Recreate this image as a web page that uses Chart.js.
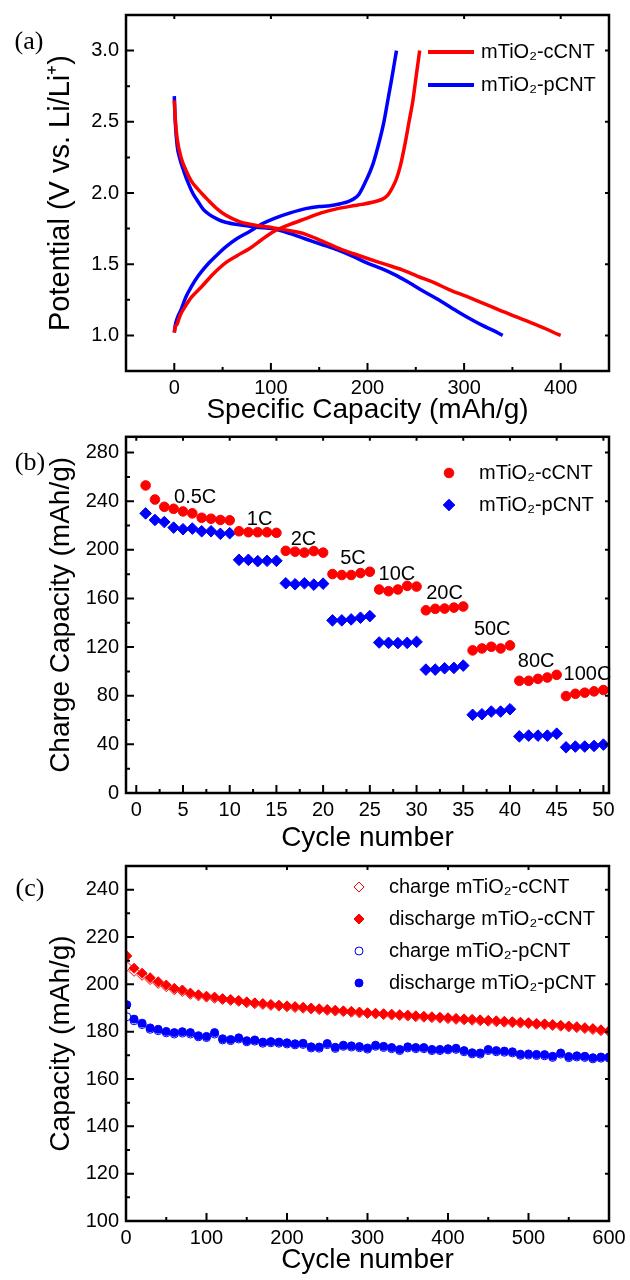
<!DOCTYPE html>
<html>
<head>
<meta charset="utf-8">
<script src="https://cdn.jsdelivr.net/npm/chart.js@4.4.0/dist/chart.umd.min.js"></script>
<style>
  html, body { margin: 0; padding: 0; background: #fff; }
  #page { position: relative; width: 630px; height: 1280px; overflow: hidden; }
  .panel { position: absolute; left: 0; width: 630px; }
  .panel canvas { display: block; }
</style>
</head>
<body>
<div id="page">
  <div class="panel" style="top:0"><canvas id="chartA" width="630" height="430"></canvas></div>
  <div class="panel" style="top:430px"><canvas id="chartB" width="630" height="430"></canvas></div>
  <div class="panel" style="top:860px"><canvas id="chartC" width="630" height="420"></canvas></div>
</div>
<script>
// ---------- (a) charge / discharge profiles ----------
var capDisC = [0, 1, 3, 7, 12, 18, 24, 28, 35, 45, 53, 62, 69, 85, 103, 120, 136, 152, 169, 185, 200, 218, 236, 252, 269, 285, 302, 320, 336, 352, 369, 385, 398, 400];
var volDisC = [2.65, 2.52, 2.38, 2.25, 2.16, 2.08, 2.03, 2.0, 1.95, 1.885, 1.845, 1.815, 1.795, 1.772, 1.755, 1.735, 1.71, 1.665, 1.615, 1.575, 1.54, 1.5, 1.46, 1.415, 1.37, 1.32, 1.275, 1.225, 1.18, 1.135, 1.09, 1.045, 1.005, 1.0];
var capChgC = [0, 1, 3, 6, 11, 18, 28, 40, 53, 65, 78, 90, 103, 120, 136, 152, 169, 185, 194, 205, 215, 221, 226, 230, 234, 239, 243, 247, 250, 252, 254];
var volChgC = [1.02, 1.06, 1.08, 1.14, 1.2, 1.27, 1.34, 1.43, 1.51, 1.56, 1.61, 1.67, 1.73, 1.78, 1.82, 1.86, 1.89, 1.91, 1.92, 1.935, 1.955, 1.985, 2.04, 2.1, 2.19, 2.35, 2.5, 2.65, 2.8, 2.9, 3.0];
var capDisP = [0, 1, 3, 5, 10, 15, 19, 25, 30, 36, 45, 53, 69, 85, 103, 120, 136, 152, 169, 185, 200, 214, 227, 242, 257, 276, 294, 308, 319, 330, 340];
var volDisP = [2.68, 2.5, 2.33, 2.26, 2.15, 2.06, 2.0, 1.935, 1.885, 1.85, 1.815, 1.795, 1.775, 1.76, 1.748, 1.715, 1.677, 1.64, 1.6, 1.555, 1.507, 1.47, 1.43, 1.375, 1.314, 1.24, 1.165, 1.11, 1.07, 1.035, 1.0];
var capChgP = [0, 1, 3, 7, 12, 17.5, 25, 36, 45, 53, 65, 78, 90, 103, 120, 136, 150, 161, 172, 180, 186, 191, 198, 205, 211, 217, 221, 225, 228, 230];
var volChgP = [1.02, 1.07, 1.12, 1.18, 1.27, 1.34, 1.42, 1.51, 1.57, 1.62, 1.68, 1.73, 1.78, 1.82, 1.86, 1.89, 1.905, 1.91, 1.925, 1.94, 1.96, 1.99, 2.08, 2.19, 2.33, 2.5, 2.65, 2.8, 2.92, 3.0];
var capTicks = [0, 100, 200, 300, 400];
var volTicks = [1.0, 1.5, 2.0, 2.5, 3.0];

// ---------- (b) rate capability ----------
var rateCycle = [1, 2, 3, 4, 5, 6, 7, 8, 9, 10, 11, 12, 13, 14, 15, 16, 17, 18, 19, 20, 21, 22, 23, 24, 25,
  26, 27, 28, 29, 30, 31, 32, 33, 34, 35, 36, 37, 38, 39, 40, 41, 42, 43, 44, 45, 46, 47, 48, 49, 50];
var rateC = [253, 241.4, 235.4, 233.8, 231.6, 230, 226.4, 225.6, 224.6, 224.3, 215.3, 214.5, 214.5, 214.5, 214,
  199.2, 198.5, 197.7, 199, 197.7, 180.1, 179.3, 179.3, 180.9, 182, 167.4, 166, 167.4, 170.4, 169.8,
  150.3, 151.5, 151.7, 152.5, 153.4, 117.3, 118.9, 120.3, 118.9, 121.4, 92.3, 92.3, 93.9, 95, 97.2,
  79.7, 81.6, 82.5, 83.6, 84.7];
var rateP = [230, 224.6, 222.9, 218.3, 217, 217.5, 215.3, 215.3, 213.2, 213.7, 191.8, 191.8, 190.7, 191, 191,
  172.5, 171.7, 172.5, 171.4, 172.2, 142, 142, 142.8, 144.2, 145.5, 123.8, 123.5, 123.3, 123.5, 124.3,
  101.5, 101.5, 102.6, 102.9, 104.8, 64.3, 64.8, 67, 67, 68.9, 46.6, 47.2, 47.2, 47.2, 48.8,
  37.6, 38.2, 38.2, 38.7, 39.8];
var rateText = ['0.5C', '1C', '2C', '5C', '10C', '20C', '50C', '80C', '100C'];
var rateTextX = [6.3, 13.2, 17.9, 23.2, 27.9, 33, 38.1, 42.8, 48.3];
var rateTextY = [242.7, 224.6, 208.8, 193, 180, 164, 134.7, 108, 97.2];
var rateXTicks = [0, 5, 10, 15, 20, 25, 30, 35, 40, 45, 50];
var rateYTicks = [0, 40, 80, 120, 160, 200, 240, 280];

// ---------- (c) long cycling ----------
var longCycle = [1, 10, 20, 30, 40, 50, 60, 70, 80, 90, 100, 110, 120, 130, 140, 150, 160, 170, 180, 190,
  200, 210, 220, 230, 240, 250, 260, 270, 280, 290, 300, 310, 320, 330, 340, 350, 360, 370, 380, 390,
  400, 410, 420, 430, 440, 450, 460, 470, 480, 490, 500, 510, 520, 530, 540, 550, 560, 570, 580, 590, 600];
var chgC = [207.6, 205.5, 203.8, 202.0, 200.4, 199.0, 197.7, 197.0, 195.8, 195.1,
  194.6, 194.1, 193.6, 193.2, 192.8, 192.2, 191.8, 191.5, 191.1, 190.8,
  190.5, 190.2, 189.9, 189.6, 189.3, 189.0, 188.7, 188.5, 188.2, 187.9,
  187.7, 187.5, 187.2, 187.0, 186.8, 186.6, 186.3, 186.1, 185.9, 185.7,
  185.5, 185.2, 185.0, 184.8, 184.6, 184.4, 184.2, 184.0, 183.8, 183.6,
  183.4, 183.1, 182.9, 182.6, 182.3, 182.0, 181.7, 181.3, 180.9, 180.4, 180.0];
var disC = [212, 206.8, 204.7, 202.8, 201.1, 199.7, 198.3, 197.6, 196.3, 195.6,
  195.0, 194.6, 194.0, 193.6, 193.2, 192.6, 192.2, 191.9, 191.5, 191.2,
  190.9, 190.6, 190.3, 190.0, 189.7, 189.4, 189.1, 188.8, 188.6, 188.3,
  188.0, 187.8, 187.6, 187.4, 187.2, 187.0, 186.7, 186.5, 186.3, 186.1,
  185.9, 185.6, 185.4, 185.2, 185.0, 184.8, 184.6, 184.4, 184.2, 184.0,
  183.8, 183.5, 183.3, 183.0, 182.7, 182.4, 182.1, 181.7, 181.3, 180.8, 180.4];
var chgP = [186.3, 184.6, 183.0, 181.0, 180.4, 179.5, 179.0, 179.4, 179.0, 177.8,
  177.5, 179.0, 176.5, 176.2, 176.9, 175.7, 176.0, 175.1, 175.3, 175.1,
  174.8, 174.4, 174.6, 173.1, 173.0, 174.5, 172.9, 173.8, 173.5, 173.2,
  172.6, 173.8, 173.3, 172.8, 172.0, 173.1, 172.8, 172.8, 172.0, 172.0,
  172.3, 172.5, 171.5, 170.6, 170.5, 172.0, 171.5, 171.3, 171.0, 170.0,
  170.1, 169.9, 169.8, 169.1, 170.5, 169.0, 169.3, 169.1, 168.5, 168.8, 168.8];
var disP = [191.4, 185.3, 183.6, 181.6, 181.0, 180.1, 179.6, 180.0, 179.6, 178.3,
  178.0, 179.6, 177.0, 176.7, 177.4, 176.2, 176.5, 175.6, 175.8, 175.6,
  175.3, 174.9, 175.1, 173.6, 173.5, 175.0, 173.4, 174.3, 174.0, 173.7,
  173.1, 174.3, 173.8, 173.3, 172.5, 173.6, 173.3, 173.3, 172.5, 172.5,
  172.8, 173.0, 172.0, 171.1, 171.0, 172.5, 172.0, 171.8, 171.5, 170.5,
  170.6, 170.4, 170.3, 169.6, 171.0, 169.5, 169.8, 169.6, 169.0, 169.3, 169.3];
var longXTicks = [0, 100, 200, 300, 400, 500, 600];
var longYTicks = [100, 120, 140, 160, 180, 200, 220, 240];

var SANS = '"Liberation Sans", Arial, sans-serif';
var SERIF = '"Liberation Serif", "Times New Roman", serif';
var RED = '#ff0000', BLUE = '#0000ff';

function pts(xs, ys) {
  return xs.map(function (x, i) { return { x: x, y: ys[i] }; });
}

// draw one legend/marker symbol
function marker(ctx, style, x, y, r, fill, stroke) {
  ctx.beginPath();
  if (style === 'rectRot') {
    ctx.moveTo(x - r, y); ctx.lineTo(x, y - r); ctx.lineTo(x + r, y); ctx.lineTo(x, y + r); ctx.closePath();
  } else {
    ctx.arc(x, y, r, 0, Math.PI * 2);
  }
  ctx.fillStyle = fill; ctx.fill();
  ctx.lineWidth = 1; ctx.strokeStyle = stroke; ctx.stroke();
}

// box frame with inward ticks, Origin style
var frameTicks = {
  id: 'frameTicks',
  afterDatasetsDraw: function (chart) {
    var ctx = chart.ctx, a = chart.chartArea;
    ctx.save();
    ctx.strokeStyle = '#000';
    ctx.lineWidth = 2;
    ['x', 'y'].forEach(function (id) {
      var s = chart.scales[id];
      var maj = s.ticks.map(function (t) { return t.value; });
      var step = maj[1] - maj[0];
      var mins = [];
      for (var i = -2; i < maj.length + 1; i++) {
        var m = maj[0] + (i + 0.5) * step;
        if (m > s.min && m < s.max) mins.push(m);
      }
      ctx.beginPath();
      maj.forEach(function (v) {
        var p = s.getPixelForValue(v);
        if (id === 'x') {
          ctx.moveTo(p, a.bottom); ctx.lineTo(p, a.bottom - 8);
          ctx.moveTo(p, a.top); ctx.lineTo(p, a.top + 4);
        } else {
          ctx.moveTo(a.left, p); ctx.lineTo(a.left + 8, p);
          ctx.moveTo(a.right, p); ctx.lineTo(a.right - 4, p);
        }
      });
      mins.forEach(function (v) {
        var p = s.getPixelForValue(v);
        if (id === 'x') { ctx.moveTo(p, a.bottom); ctx.lineTo(p, a.bottom - 4); }
        else { ctx.moveTo(a.left, p); ctx.lineTo(a.left + 4, p); }
      });
      ctx.stroke();
    });
    ctx.lineWidth = 2.5;
    ctx.strokeRect(a.left, a.top, a.right - a.left, a.bottom - a.top);
    ctx.restore();
  }
};

// legend inside the plot + panel letter + text annotations
var decor = {
  id: 'decor',
  afterDraw: function (chart, args, o) {
    var ctx = chart.ctx;
    ctx.save();
    ctx.textBaseline = 'middle';
    ctx.fillStyle = '#000';
    ctx.font = '26px ' + SERIF;
    ctx.textAlign = 'center';
    ctx.fillText(o.letter, o.letterX, o.letterY);

    ctx.font = '20px ' + SANS;
    if (o.notes) {
      var xs = chart.scales.x, ys = chart.scales.y;
      o.notes.text.forEach(function (t, i) {
        ctx.fillStyle = '#000';
        ctx.fillText(t, xs.getPixelForValue(o.notes.x[i]), ys.getPixelForValue(o.notes.y[i]));
      });
    }
    ctx.textAlign = 'left';
    o.items.forEach(function (idx, i) {
      var ds = chart.data.datasets[idx];
      var y = o.y + i * o.rowH;
      if (o.line) {
        ctx.strokeStyle = ds.borderColor; ctx.lineWidth = 4;
        ctx.beginPath(); ctx.moveTo(o.markX - 23, y); ctx.lineTo(o.markX + 23, y); ctx.stroke();
      } else {
        marker(ctx, ds.pointStyle, o.markX, y, ds.pointRadius, ds.backgroundColor, ds.borderColor);
      }
      ctx.fillStyle = '#000';
      ctx.fillText(ds.label, o.textX, y);
    });
    ctx.restore();
  }
};

function axes(o) {
  var tickFont = { family: SANS, size: 20 };
  var titleFont = { family: SANS, size: 28 };
  return {
    x: {
      type: 'linear', min: o.xMin, max: o.xMax,
      grid: { display: false, drawTicks: false }, border: { display: false },
      afterBuildTicks: function (s) { s.ticks = o.xTicks.map(function (v) { return { value: v }; }); },
      afterFit: function (s) { s.height = o.xH; s.paddingLeft = 0; s.paddingRight = 0; },
      ticks: { color: '#000', font: tickFont, padding: 5, maxRotation: 0, autoSkip: false,
        callback: o.xFmt || function (v) { return v; } },
      title: { display: true, text: o.xTitle, color: '#000', font: titleFont, padding: { top: 0, bottom: o.xTitlePad } }
    },
    y: {
      type: 'linear', min: o.yMin, max: o.yMax,
      grid: { display: false, drawTicks: false }, border: { display: false },
      afterBuildTicks: function (s) { s.ticks = o.yTicks.map(function (v) { return { value: v }; }); },
      afterFit: function (s) { s.width = 126; s.paddingTop = 0; s.paddingBottom = 0; },
      ticks: { color: '#000', font: tickFont, padding: 7, autoSkip: false,
        callback: o.yFmt || function (v) { return v; } },
      title: { display: true, text: o.yTitle, color: '#000', font: o.yTitleFont || titleFont, padding: { top: 44, bottom: 0 } }
    }
  };
}

Chart.defaults.animation = false;

function curve(label, xs, ys, color) {
  return { label: label, data: pts(xs, ys), borderColor: color, borderWidth: 3.5, showLine: true,
    pointRadius: 0, cubicInterpolationMode: 'monotone' };
}

// (a)
new Chart(document.getElementById('chartA'), {
  type: 'scatter',
  data: {
    datasets: [
      curve('mTiO\u2082-cCNT', capDisC, volDisC, RED),
      curve('mTiO\u2082-cCNT', capChgC, volChgC, RED),
      curve('mTiO\u2082-pCNT', capDisP, volDisP, BLUE),
      curve('mTiO\u2082-pCNT', capChgP, volChgP, BLUE)
    ]
  },
  options: {
    responsive: false,
    layout: { padding: { top: 15, right: 21, left: 0, bottom: 0 } },
    plugins: {
      legend: { display: false }, tooltip: { enabled: false },
      decor: { letter: '(a)', letterX: 29, letterY: 42, line: true, items: [0, 2], markX: 451, textX: 481, y: 52, rowH: 33 }
    },
    scales: axes({
      xMin: -50, xMax: 450, xTicks: capTicks, xH: 59, xTitle: 'Specific Capacity (mAh/g)', xTitlePad: 3,
      yMin: 0.75, yMax: 3.25, yTicks: volTicks, yTitle: 'Potential (V vs. Li/Li\u207A)',
      yTitleFont: { family: SANS, size: 29 },
      yFmt: function (v) { return v.toFixed(1); }
    })
  },
  plugins: [frameTicks, decor]
});

// (b)
new Chart(document.getElementById('chartB'), {
  type: 'scatter',
  data: {
    datasets: [
      { label: 'mTiO\u2082-cCNT', data: pts(rateCycle, rateC), pointStyle: 'circle', pointRadius: 4.8,
        backgroundColor: RED, borderColor: RED, borderWidth: 1 },
      { label: 'mTiO\u2082-pCNT', data: pts(rateCycle, rateP), pointStyle: 'rectRot', pointRadius: 5.8,
        backgroundColor: BLUE, borderColor: BLUE, borderWidth: 1 }
    ]
  },
  options: {
    responsive: false,
    layout: { padding: { top: 6, right: 21, left: 0, bottom: 0 } },
    plugins: {
      legend: { display: false }, tooltip: { enabled: false },
      decor: { letter: '(b)', letterX: 30, letterY: 33, items: [0, 1], markX: 449, textX: 479, y: 43, rowH: 32,
        notes: { text: rateText, x: rateTextX, y: rateTextY } }
    },
    scales: axes({
      xMin: -1.1, xMax: 50.6, xTicks: rateXTicks, xH: 67, xTitle: 'Cycle number', xTitlePad: 5,
      yMin: 0, yMax: 293, yTicks: rateYTicks, yTitle: 'Charge Capacity (mAh/g)'
    })
  },
  plugins: [frameTicks, decor]
});

// (c)
new Chart(document.getElementById('chartC'), {
  type: 'scatter',
  data: {
    datasets: [
      { label: 'charge mTiO\u2082-cCNT', data: pts(longCycle, chgC), pointStyle: 'rectRot', pointRadius: 5,
        backgroundColor: '#fff', borderColor: RED, borderWidth: 1, order: 2 },
      { label: 'discharge mTiO\u2082-cCNT', data: pts(longCycle, disC), pointStyle: 'rectRot', pointRadius: 5,
        backgroundColor: RED, borderColor: RED, borderWidth: 1, order: 1 },
      { label: 'charge mTiO\u2082-pCNT', data: pts(longCycle, chgP), pointStyle: 'circle', pointRadius: 4,
        backgroundColor: '#fff', borderColor: BLUE, borderWidth: 1, order: 4 },
      { label: 'discharge mTiO\u2082-pCNT', data: pts(longCycle, disP), pointStyle: 'circle', pointRadius: 4,
        backgroundColor: BLUE, borderColor: BLUE, borderWidth: 1, order: 3 }
    ]
  },
  options: {
    responsive: false,
    layout: { padding: { top: 6, right: 21, left: 0, bottom: 0 } },
    plugins: {
      legend: { display: false }, tooltip: { enabled: false },
      decor: { letter: '(c)', letterX: 30, letterY: 29, items: [0, 1, 2, 3], markX: 359, textX: 389, y: 27, rowH: 32 }
    },
    scales: axes({
      xMin: 0, xMax: 600, xTicks: longXTicks, xH: 59, xTitle: 'Cycle number', xTitlePad: 3,
      yMin: 100, yMax: 250, yTicks: longYTicks, yTitle: 'Capacity (mAh/g)'
    })
  },
  plugins: [frameTicks, decor]
});
</script>
</body>
</html>
